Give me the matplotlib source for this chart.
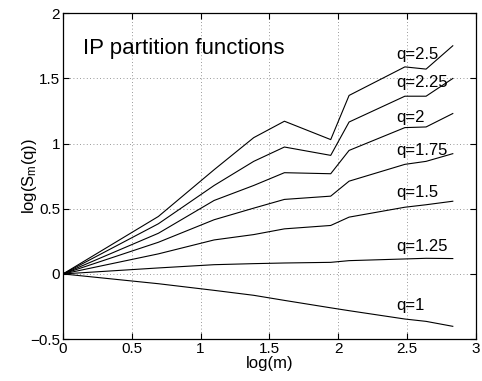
import matplotlib
matplotlib.use("Agg")
import matplotlib.pyplot as plt
import numpy as np

plt.rcParams['font.family'] = ['Liberation Sans', 'DejaVu Sans']
plt.rcParams['mathtext.fontset'] = 'custom'
plt.rcParams['mathtext.rm'] = 'Liberation Sans'
plt.rcParams['mathtext.it'] = 'Liberation Sans'

# box sizes m, plotted as log(m)
m = [1, 2, 3, 4, 5, 7, 8, 12, 14, 17]
q_labels = ["q=2.5", "q=2.25", "q=2", "q=1.75", "q=1.5", "q=1.25", "q=1"]
s_25 = [0, 0.441, 0.800, 1.046, 1.172, 1.031, 1.370, 1.589, 1.572, 1.751]
s_225 = [0, 0.385, 0.679, 0.864, 0.974, 0.910, 1.166, 1.364, 1.364, 1.500]
s_20 = [0, 0.312, 0.564, 0.679, 0.777, 0.769, 0.948, 1.123, 1.128, 1.231]
s_175 = [0, 0.243, 0.416, 0.505, 0.572, 0.597, 0.712, 0.841, 0.864, 0.923]
s_15 = [0, 0.154, 0.261, 0.302, 0.346, 0.372, 0.436, 0.512, 0.531, 0.558]
s_125 = [0, 0.046, 0.071, 0.079, 0.084, 0.089, 0.102, 0.115, 0.120, 0.118]
s_10 = [0, -0.075, -0.126, -0.164, -0.203, -0.260, -0.282, -0.346, -0.364, -0.402]
series = [s_25, s_225, s_20, s_175, s_15, s_125, s_10]
label_y = [1.646, 1.435, 1.166, 0.91, 0.589, 0.179, -0.277]

x = np.log(m)

fig = plt.figure(figsize=(4.82, 3.81), dpi=100)
ax = fig.add_axes([0.1307, 0.110, 0.8563, 0.855])

for s in series:
    ax.plot(x, s, color='black', lw=0.8)

for lab, ly in zip(q_labels, label_y):
    ax.text(2.423, ly, lab, fontsize=12, ha='left', va='baseline')

ax.text(0.149, 1.69, "IP partition functions", fontsize=16, ha='left', va='baseline')

ax.set_xlim(0, 3)
ax.set_ylim(-0.5, 2)
ax.set_xticks([0, 0.5, 1, 1.5, 2, 2.5, 3])
ax.set_xticklabels(['0', '0.5', '1', '1.5', '2', '2.5', '3'])
ax.set_yticks([-0.5, 0, 0.5, 1, 1.5, 2])
ax.set_yticklabels(['\u22120.5', '0', '0.5', '1', '1.5', '2'])
ax.tick_params(direction='in', top=True, right=True, labelsize=11, pad=2, length=4)
ax.grid(True, ls=(0, (1, 3)), color='#777777', lw=0.6)
for sp in ax.spines.values():
    sp.set_linewidth(0.9)

ax.set_xlabel("log(m)", fontsize=12, labelpad=0)
ax.set_ylabel("log(S$_m$(q))", fontsize=12)
ax.yaxis.set_label_coords(-0.058, 0.5)

fig.savefig("out.png", dpi=100)
